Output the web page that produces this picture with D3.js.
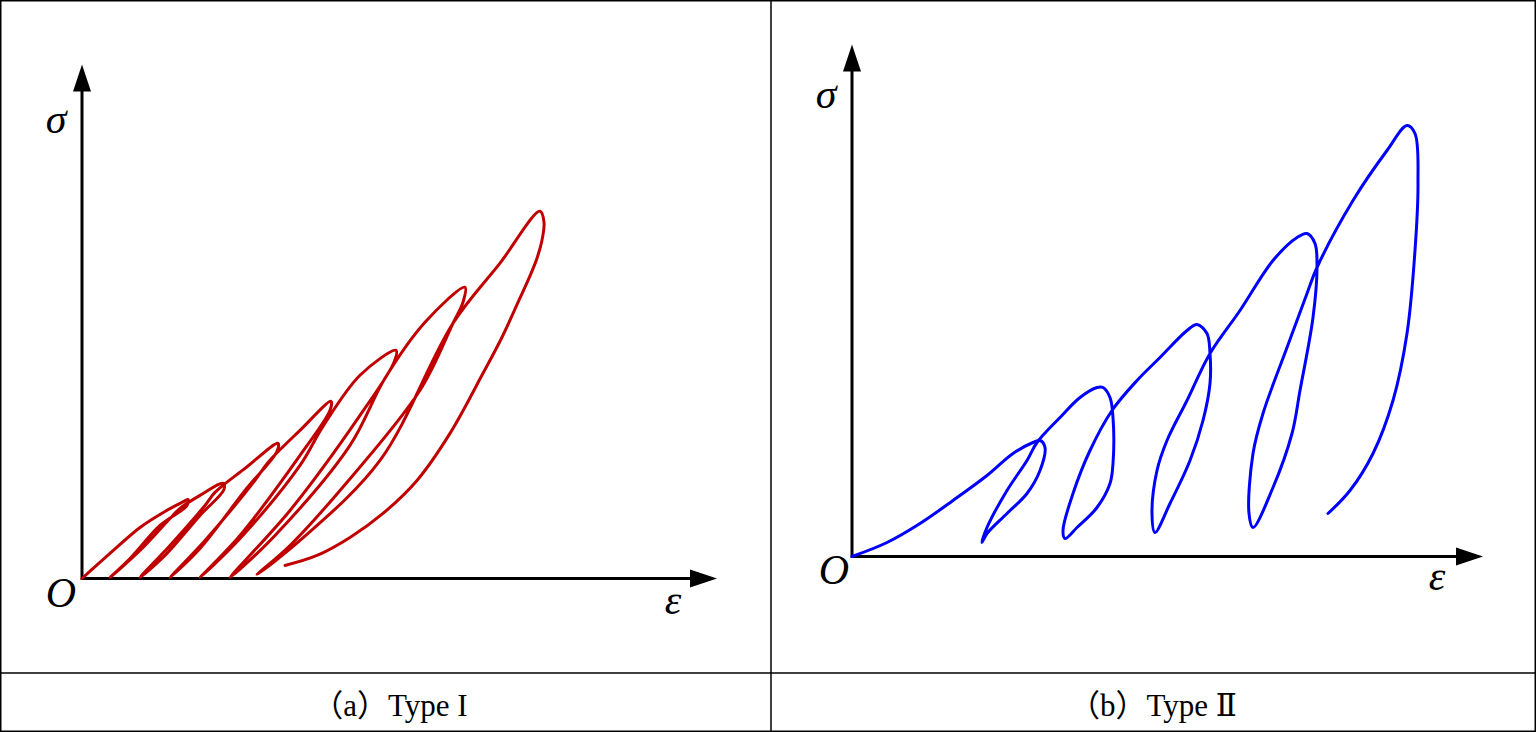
<!DOCTYPE html>
<html><head><meta charset="utf-8">
<script src="https://cdn.jsdelivr.net/npm/d3@7"></script>
<style>body{margin:0;background:#fff;overflow:hidden}</style>
</head><body>
<svg id="c" width="1536" height="732"></svg>
<script>
// ---- data (schematic units: strain ε, stress σ) ----
const typeIStrain = [0,5.6,11.6,16.6,20.4,21.2,21,15.6,9.6,5.6,
  11.6,17.6,19.6,23.6,28.2,28.4,23.6,16.6,11.6,
  17.6,24.6,26.6,32.6,39.2,39,32.6,23.6,17.6,
  24.6,34.6,37.2,43.6,49.8,49.6,43.6,31.6,23.6,
  31.6,43.6,48.2,55.6,62.8,62.4,55.6,41.6,29.6,
  38.6,53.6,60.6,68.6,76.6,76.2,74.2,67.6,51.6,41.6,35,
  43.6,59.6,74.2,83.6,91.6,92.4,92,91,89.4,87.4,84,80.2,73.6,67,60.2,53.6,47,40.6];
const typeIStress = [0,5,10.2,13.4,15.4,15.8,14.6,10.6,4,0.2,
  5.6,12,14,16.6,19,17.8,12.6,4.6,0.2,
  6.6,14.6,17.2,22,27,25.4,17.6,6,0.2,
  7.6,19.6,23.2,29.6,35.4,33.6,24.6,8.6,0.2,
  8,22.6,30.4,40.6,45.6,43.2,32.6,13.6,0.2,
  8.6,26.6,40,51.2,58.2,55.2,51,37.6,17.6,6.6,0.8,
  7.6,23.6,51,63,73.4,71.2,67.6,64,60,55.6,48.2,41,29,19.6,13,8.2,4.6,2.6];

const typeIIStrain = [0,7,13.6,20.2,27,32.2,36.2,37.6,38.6,37.6,35,31,27,26,
  27,31,35,37,41.6,45.6,49,50.2,51.6,52.2,52.2,51.6,49,45,42.6,
  42.2,44.2,47.6,52,57,61.6,67,69,71,71.6,71.6,70.2,67.6,63.6,60.6,
  60,61,63,67,71.6,77.6,84.2,89,91,92.6,93,92.2,89.6,88,84.2,80.2,
  79.4,80.2,82.2,87,91,93,100.2,107,111,112.6,113.2,112.6,111,108.2,104.2,99.6,95.2];
const typeIIStress = [0,2.8,6.6,11.2,16.2,20.6,22.8,23.2,21.8,17.2,12.6,8.6,4.6,2.8,
  5.8,13.2,19.2,22.8,27.8,31.8,33.8,33.8,31.8,27.8,18.6,14.6,9.8,5.8,3.6,
  5.2,12.6,21.2,29.2,35.2,39.8,45.2,46.4,44.6,40.6,34.6,27.2,19.2,10.6,4.8,
  8.6,17.2,23.2,31.2,40.6,49.2,59.2,63.8,64.6,62.6,57.8,47.8,33.2,24.6,13.8,5.8,
  8.6,20.6,28.6,41.8,52.6,57.8,71.2,81.2,86.2,84.6,74.6,61.2,44.6,31.2,20.6,13.2,8.6];

const axisMaxI = [127, 102.7];     // arrow tips (ε, σ)
const axisMaxII = [126.2, 102.4];
const captions = ["（a）Type I", "（b）Type Ⅱ"];
const labelX = "ε", labelY = "σ", labelO = "O";

// ---- drawing ----
const svg = d3.select("#c");
svg.append("rect").attr("x",0.75).attr("y",0.75).attr("width",1534.5).attr("height",730.5)
  .attr("fill","none").attr("stroke","#000").attr("stroke-width",1.5);
svg.append("line").attr("x1",771).attr("x2",771).attr("y1",0).attr("y2",732)
  .attr("stroke","#000").attr("stroke-width",1.5);
svg.append("line").attr("x1",0).attr("x2",1536).attr("y1",673).attr("y2",673)
  .attr("stroke","#000").attr("stroke-width",1.5);

const serif = "'Liberation Serif','Times New Roman',serif";

function panel(cfg){
  const x = d3.scaleLinear().domain([0,cfg.max[0]]).range(cfg.xr);
  const y = d3.scaleLinear().domain([0,cfg.max[1]]).range(cfg.yr);
  const g = svg.append("g");
  const ox = x(0), oy = y(0), tx = x(cfg.max[0]), ty = y(cfg.max[1]);
  const L = 27, W = 9;
  g.append("line").attr("x1",ox).attr("y1",oy).attr("x2",tx-L+2).attr("y2",oy)
    .attr("stroke","#000").attr("stroke-width",3);
  g.append("line").attr("x1",ox).attr("y1",oy+1.5).attr("x2",ox).attr("y2",ty+L-2)
    .attr("stroke","#000").attr("stroke-width",3);
  g.append("path").attr("d",`M${tx},${oy}L${tx-L},${oy-W}L${tx-L},${oy+W}Z`).attr("fill","#000");
  g.append("path").attr("d",`M${ox},${ty}L${ox-W},${ty+L}L${ox+W},${ty+L}Z`).attr("fill","#000");

  const pts = cfg.sx.map((v,i)=>[v,cfg.sy[i]]);
  const line = d3.line().x(d=>x(d[0])).y(d=>y(d[1])).curve(d3.curveCatmullRom.alpha(0.5));
  g.append("path").attr("d",line(pts)).attr("fill","none").attr("stroke",cfg.color)
    .attr("stroke-width",3).attr("stroke-linejoin","round").attr("stroke-linecap","round");

  const lab = (t,px,py)=>g.append("text").attr("x",px).attr("y",py).attr("text-anchor","middle")
    .attr("font-family",serif).attr("font-style","italic").attr("font-size",42).text(t);
  lab(labelY, ox+cfg.sig[0], ty+cfg.sig[1]);
  lab(labelO, ox+cfg.o[0], oy+cfg.o[1]);
  lab(labelX, tx+cfg.eps[0], oy+cfg.eps[1]);

  svg.append("text").attr("x",cfg.cap).attr("y",716).attr("text-anchor","middle")
    .attr("font-family","'Liberation Serif','DejaVu Serif','Noto Sans CJK SC',serif")
    .attr("font-size",31).text(cfg.caption);
}

panel({xr:[82,717], yr:[578.5,64.5], max:axisMaxI, sx:typeIStrain, sy:typeIStress,
  color:"#C00000", sig:[-26,68], o:[-21,28], eps:[-44,35], cap:390, caption:captions[0]});
panel({xr:[852,1483], yr:[556.5,44.5], max:axisMaxII, sx:typeIIStrain, sy:typeIIStress,
  color:"#0000FF", sig:[-26,63], o:[-18,27], eps:[-46,33], cap:1153, caption:captions[1]});
</script>
</body></html>
